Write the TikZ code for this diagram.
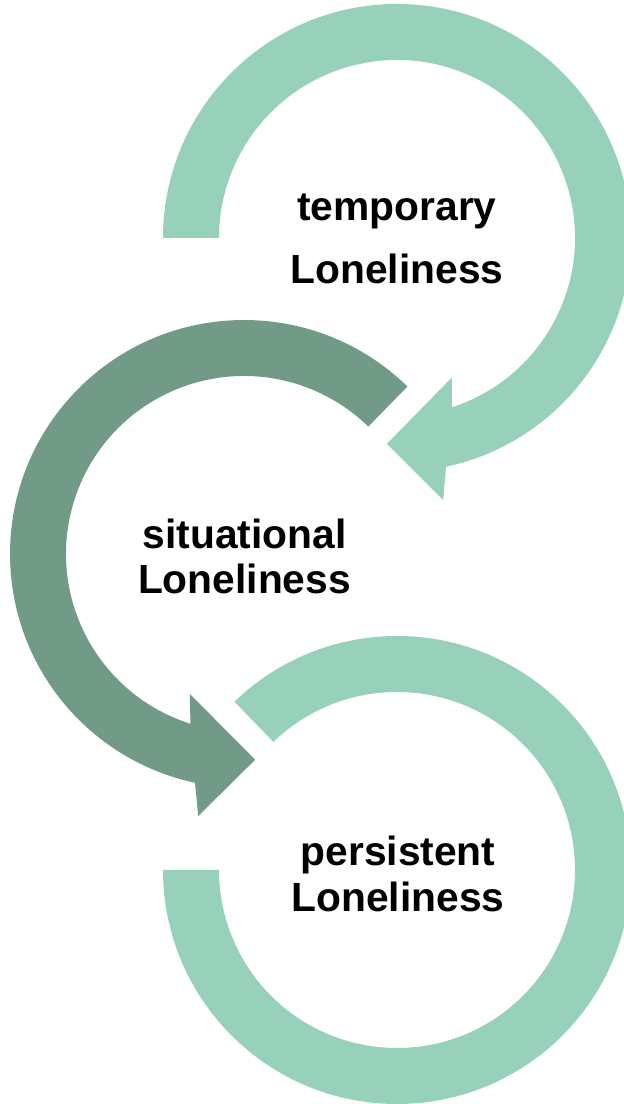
\documentclass[tikz,border=0pt]{standalone}
\usepackage{fontspec}
\setmainfont{Liberation Sans}
\usepackage{tikz}
\usetikzlibrary{positioning}
\definecolor{mint}{RGB}{152,209,185}
\definecolor{sage}{RGB}{113,155,135}

\begin{document}
\begin{tikzpicture}[x=0.02cm,y=0.02cm,
	ringtext/.style={align=center,anchor=base,font=\bfseries\fontsize{23.2}{26.1}\selectfont}]
	\useasboundingbox (0,0) rectangle (623,1104);
	\coordinate (C1) at (397,866);
	\coordinate (C2) at (244,550);
	\coordinate (C3) at (397,234);

	% top arrow, clockwise
	\fill[mint,shift={(C1)}] (180:234) arc[start angle=180,end angle=-77.9,radius=234]
		-- (-80:266) -- (-92.8:206) -- (-68.6:150) -- (-72:178)
		arc[start angle=-72,end angle=180,radius=178] -- cycle;
	% middle arrow, counter clockwise
	\fill[sage,shift={(C2)}] (45.7:234) arc[start angle=45.7,end angle=257.9,radius=234]
		-- (260.1:266) -- (273.1:206) -- (248.8:150) -- (252.5:178)
		arc[start angle=252.5,end angle=45.7,radius=178] -- cycle;
	% bottom ring
	\fill[mint,shift={(C3)}] (180:234) arc[start angle=180,end angle=494,radius=234]
		-- (494:178) arc[start angle=494,end angle=180,radius=178] -- cycle;

	% base anchor sits on the last line
	\node[ringtext] (temp) at (397,820) {temporary\\[9.8pt]Loneliness};
	\node[ringtext] (situ) at (244.5,510) {situational\\Loneliness};
	\node[ringtext] (pers) at (398,192.3) {persistent\\Loneliness};
\end{tikzpicture}
\end{document}
